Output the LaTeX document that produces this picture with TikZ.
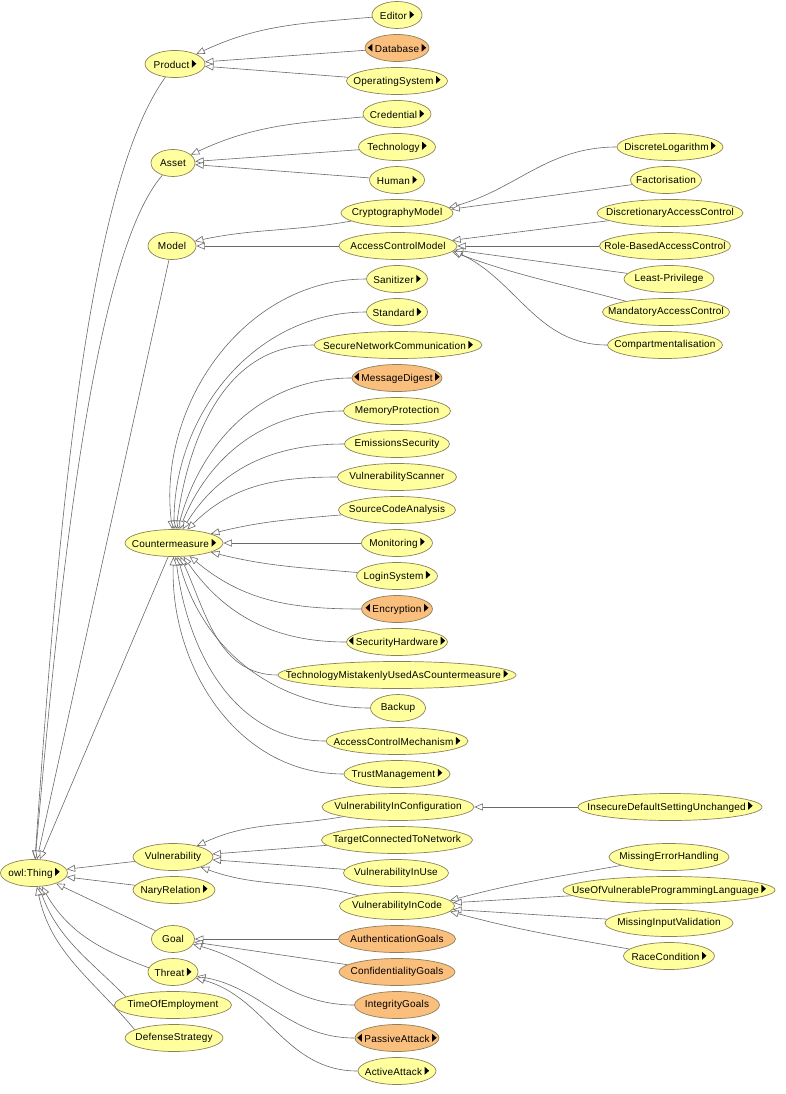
\documentclass[tikz,border=0pt]{standalone}
\usepackage{fontspec}
\setmainfont{Liberation Sans}[LetterSpace=2]
\usetikzlibrary{arrows.meta,backgrounds,shapes.geometric}
\definecolor{clsfill}{RGB}{255,255,158}
\definecolor{instfill}{RGB}{250,190,125}
\definecolor{clsline}{RGB}{140,130,90}
\definecolor{edgegray}{RGB}{105,105,105}
\newcommand{\trR}{\hspace{2.5pt}\tikz[baseline=-0.4pt]\fill (0,0) -- (0,8pt) -- (4.5pt,4pt) -- cycle;}
\newcommand{\trL}{\tikz[baseline=-0.4pt]\fill (4.5pt,0) -- (4.5pt,8pt) -- (0,4pt) -- cycle;\hspace{2.5pt}}

\begin{document}
\begin{tikzpicture}[x=1pt, y=1pt,
	cls/.style={ellipse, draw=clsline, fill=clsfill, line width=0.7pt, inner xsep=-100pt, inner ysep=-10pt, minimum height=27pt, font=\fontsize{10}{12}\selectfont},
	inst/.style={cls, fill=instfill},
	isa/.style={draw=edgegray, line width=0.6pt, -{Triangle[fill=white, length=8.5pt, width=7pt]}}]
	\useasboundingbox (0,0) rectangle (785,-1094);
	\node[cls, minimum width=67pt] (thing) at (34,-873) {owl:Thing\trR};
	\node[cls, minimum width=60pt] (product) at (175,-64) {Product\trR};
	\node[cls, minimum width=44pt] (asset) at (173,-163) {Asset};
	\node[cls, minimum width=48pt] (model) at (172,-246) {Model};
	\node[cls, minimum width=98pt] (countermeasure) at (174,-543) {Countermeasure\trR};
	\node[cls, minimum width=80pt] (vulnerability) at (173,-857) {Vulnerability};
	\node[cls, minimum width=82pt] (nary) at (174,-890) {NaryRelation\trR};
	\node[cls, minimum width=43pt] (goal) at (173,-939) {Goal};
	\node[cls, minimum width=50pt] (threat) at (173,-972) {Threat\trR};
	\node[cls, minimum width=117pt] (time) at (173,-1005) {TimeOfEmployment};
	\node[cls, minimum width=98pt] (defense) at (174,-1038) {DefenseStrategy};
	\node[cls, minimum width=50pt] (editor) at (397,-15) {Editor\trR};
	\node[inst, minimum width=64pt] (database) at (397,-48) {\trL Database\trR};
	\node[cls, minimum width=101pt] (os) at (397,-81) {OperatingSystem\trR};
	\node[cls, minimum width=68pt] (credential) at (397,-114) {Credential\trR};
	\node[cls, minimum width=77pt] (technology) at (397,-147) {Technology\trR};
	\node[cls, minimum width=55pt] (human) at (397,-180) {Human\trR};
	\node[cls, minimum width=112pt] (cryptom) at (397,-213) {CryptographyModel};
	\node[cls, minimum width=118pt] (acmodel) at (398,-246) {AccessControlModel};
	\node[cls, minimum width=61pt] (sanitizer) at (397,-279) {Sanitizer\trR};
	\node[cls, minimum width=61pt] (standard) at (397,-312) {Standard\trR};
	\node[cls, minimum width=168pt] (snc) at (398,-345) {SecureNetworkCommunication\trR};
	\node[inst, minimum width=90pt] (digest) at (397,-378) {\trL MessageDigest\trR};
	\node[cls, minimum width=107pt] (memory) at (397,-411) {MemoryProtection};
	\node[cls, minimum width=105pt] (emissions) at (397,-444) {EmissionsSecurity};
	\node[cls, minimum width=119pt] (scanner) at (397,-477) {VulnerabilityScanner};
	\node[cls, minimum width=117pt] (sca) at (397,-510) {SourceCodeAnalysis};
	\node[cls, minimum width=71pt] (monitoring) at (397,-543) {Monitoring\trR};
	\node[cls, minimum width=81pt] (login) at (397,-576) {LoginSystem\trR};
	\node[inst, minimum width=71pt] (encryption) at (397,-609) {\trL Encryption\trR};
	\node[cls, minimum width=101pt] (hardware) at (397,-642) {\trL SecurityHardware\trR};
	\node[cls, minimum width=238pt] (mistaken) at (397,-675) {TechnologyMistakenlyUsedAsCountermeasure\trR};
	\node[cls, minimum width=55pt] (backup) at (398,-708) {Backup};
	\node[cls, minimum width=142pt] (acmech) at (397,-741) {AccessControlMechanism\trR};
	\node[cls, minimum width=106pt] (trust) at (397,-774) {TrustManagement\trR};
	\node[cls, minimum width=152pt] (viconf) at (398,-807) {VulnerabilityInConfiguration};
	\node[cls, minimum width=151pt] (tcn) at (397,-840) {TargetConnectedToNetwork};
	\node[cls, minimum width=105pt] (viuse) at (396,-873) {VulnerabilityInUse};
	\node[cls, minimum width=115pt] (vicode) at (397,-906) {VulnerabilityInCode};
	\node[inst, minimum width=117pt] (authg) at (397,-939) {AuthenticationGoals};
	\node[inst, minimum width=116pt] (confg) at (397,-972) {ConfidentialityGoals};
	\node[inst, minimum width=85pt] (integg) at (397,-1005) {IntegrityGoals};
	\node[inst, minimum width=84pt] (passive) at (397,-1038) {\trL PassiveAttack\trR};
	\node[cls, minimum width=78pt] (active) at (397,-1071) {ActiveAttack\trR};
	\node[cls, minimum width=106pt] (dlog) at (670,-147) {DiscreteLogarithm\trR};
	\node[cls, minimum width=71pt] (fact) at (666,-180) {Factorisation};
	\node[cls, minimum width=146pt] (dac) at (670,-213) {DiscretionaryAccessControl};
	\node[cls, minimum width=131pt] (rbac) at (665,-246) {Role-BasedAccessControl};
	\node[cls, minimum width=90pt] (leastp) at (669,-279) {Least-Privilege};
	\node[cls, minimum width=127pt] (mac) at (666,-312) {MandatoryAccessControl};
	\node[cls, minimum width=115pt] (compart) at (665,-345) {Compartmentalisation};
	\node[cls, minimum width=184pt] (insecure) at (670,-807) {InsecureDefaultSettingUnchanged\trR};
	\node[cls, minimum width=120pt] (errorh) at (669,-857) {MissingErrorHandling};
	\node[cls, minimum width=212pt] (uovpl) at (669,-890) {UseOfVulnerableProgrammingLanguage\trR};
	\node[cls, minimum width=128pt] (inputv) at (669,-923) {MissingInputValidation};
	\node[cls, minimum width=91pt] (race) at (669,-956) {RaceCondition\trR};
	\begin{scope}[on background layer]
	\draw[isa] (product) .. controls +(234:150) and +(86:350) .. (thing);
	\draw[isa] (asset) .. controls +(229:120) and +(85:300) .. (thing);
	\draw[isa] (model) -- (thing);
	\draw[isa] (countermeasure) -- (thing);
	\draw[isa] (vulnerability) -- (thing);
	\draw[isa] (nary) -- (thing);
	\draw[isa] (goal) -- (thing);
	\draw[isa] (threat.170) to[out=160, in=-60] (thing);
	\draw[isa] (time.170) to[out=135, in=-70] (thing);
	\draw[isa] (defense.168) to[out=130, in=-78] (thing);
	\draw[isa] (editor) to[out=185, in=25] (product);
	\draw[isa] (database) -- (product);
	\draw[isa] (os) -- (product);
	\draw[isa] (credential) to[out=185, in=25] (asset);
	\draw[isa] (technology) -- (asset);
	\draw[isa] (human) -- (asset);
	\draw[isa] (cryptom) to[out=190, in=12] (model);
	\draw[isa] (acmodel) -- (model);
	\draw[isa] (dlog) to[out=180, in=15] (cryptom.6);
	\draw[isa] (fact) -- (cryptom.4);
	\draw[isa] (dac) -- (acmodel.6);
	\draw[isa] (rbac) -- (acmodel);
	\draw[isa] (leastp) -- (acmodel.-4);
	\draw[isa] (mac) to[out=165, in=-20] (acmodel.-6);
	\draw[isa] (compart) to[out=180, in=-25] (acmodel.-5);
	\draw[isa] (sanitizer) to[out=180, in=97] (countermeasure);
	\draw[isa] (standard) to[out=180, in=90] (countermeasure);
	\draw[isa] (snc) to[out=180, in=82] (countermeasure);
	\draw[isa] (digest) to[out=180, in=75] (countermeasure);
	\draw[isa] (memory) to[out=180, in=68] (countermeasure);
	\draw[isa] (emissions) to[out=180, in=58] (countermeasure);
	\draw[isa] (scanner) to[out=180, in=45] (countermeasure);
	\draw[isa] (sca) to[out=185, in=14] (countermeasure);
	\draw[isa] (monitoring) -- (countermeasure);
	\draw[isa] (login) to[out=175, in=-14] (countermeasure);
	\draw[isa] (encryption) to[out=180, in=-40] (countermeasure);
	\draw[isa] (hardware) to[out=180, in=-55] (countermeasure);
	\draw[isa] (mistaken) to[out=180, in=-65] (countermeasure);
	\draw[isa] (backup) to[out=180, in=-75] (countermeasure);
	\draw[isa] (acmech) to[out=180, in=-83] (countermeasure);
	\draw[isa] (trust) to[out=180, in=-92] (countermeasure);
	\draw[isa] (viconf) to[out=190, in=25] (vulnerability);
	\draw[isa] (tcn) -- (vulnerability);
	\draw[isa] (viuse) -- (vulnerability);
	\draw[isa] (vicode) to[out=165, in=-20] (vulnerability);
	\draw[isa] (insecure) -- (viconf);
	\draw[isa] (errorh) to[out=190, in=15] (vicode.6);
	\draw[isa] (uovpl) -- (vicode);
	\draw[isa] (inputv) -- (vicode);
	\draw[isa] (race) to[out=170, in=-15] (vicode.-6);
	\draw[isa] (authg) -- (goal);
	\draw[isa] (confg) -- (goal);
	\draw[isa] (integg) to[out=180, in=-15] (goal);
	\draw[isa] (passive) to[out=180, in=-10] (threat);
	\draw[isa] (active) to[out=180, in=-15] (threat);
	\end{scope}
\end{tikzpicture}
\end{document}
